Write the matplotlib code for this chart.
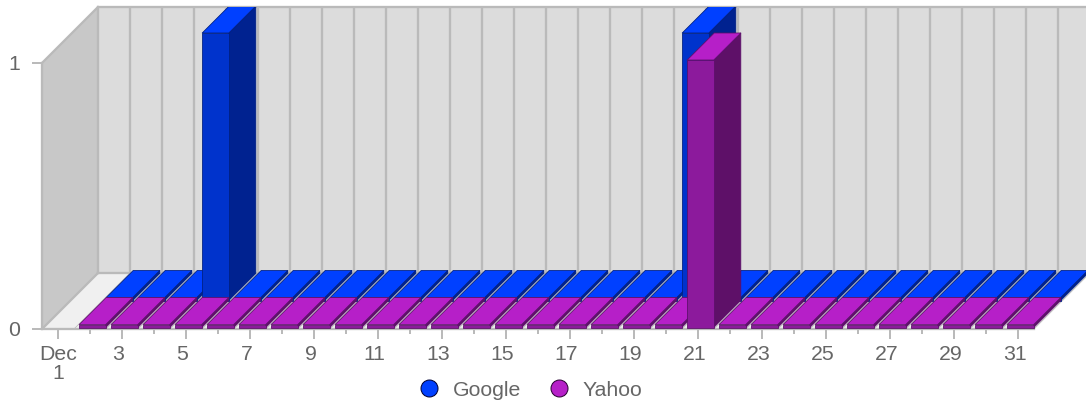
import matplotlib
matplotlib.use("Agg")
import matplotlib.pyplot as plt
from matplotlib.patches import Polygon
from matplotlib.lines import Line2D
from matplotlib.transforms import ScaledTranslation

# ---- data ----
days = list(range(2, 32))
google = [0, 0, 0, 1, 0, 0, 0, 0, 0, 0, 0, 0, 0, 0, 0, 0, 0, 0, 1, 0,
          0, 0, 0, 0, 0, 0, 0, 0, 0, 0]
yahoo = [0, 0, 0, 0, 0, 0, 0, 0, 0, 0, 0, 0, 0, 0, 0, 0, 0, 0, 0, 1,
         0, 0, 0, 0, 0, 0, 0, 0, 0, 0]
major_days = list(range(1, 32, 2))
minor_days = list(range(2, 32, 2))
major_labels = ["Dec\n1"] + [str(d) for d in major_days[1:]]
y_ticks = [0, 1]
series_names = ["Google", "Yahoo"]

# ---- style ----
W, H = 1086, 408
DPI = 100
TXT = "#666666"
GRID = "#bababa"
PX = 0.72  # one pixel in points
FS = 15.3
STYLES = {
    "Google": dict(top="#0040ff", front="#0033cc", side="#002290", edge="#001f80"),
    "Yahoo": dict(top="#b61fc8", front="#8c1a9c", side="#5e1068", edge="#5c0f6a"),
}
plt.rcParams["font.family"] = ["Liberation Sans", "DejaVu Sans"]

fig = plt.figure(figsize=(W / DPI, H / DPI), dpi=DPI)
ax = fig.add_axes([42 / W, (H - 329) / H, (W - 42) / W, (329 - 7) / H])
ax.set_facecolor("none")
ax.set_xlim(0.5, 0.5 + (W - 42) / 32)
ax.set_ylim(0, (329 - 7) / 266)
ux, uy = 1 / 32, 1 / 266  # data units per pixel
DEPTH = 56


def P(x, y, dz=0):
    """Oblique projection: dz pixels of depth go right and up."""
    return (x + dz * ux, y + dz * uy)


x0, x1 = 0.5, 31.5
y1 = 1.0
# walls and floor
ax.add_patch(Polygon([P(x0, 0), P(x0, 0, DEPTH), P(x0, y1, DEPTH), P(x0, y1)],
                     fc="#c8c8c8", ec="none", zorder=1))
ax.add_patch(Polygon([P(x0, 0, DEPTH), P(x1 + 2, 0, DEPTH), P(x1 + 2, y1, DEPTH), P(x0, y1, DEPTH)],
                     fc="#dcdcdc", ec="none", zorder=1))
ax.add_patch(Polygon([P(x0, 0), P(x1, 0), P(x1, 0, DEPTH), P(x0, 0, DEPTH)],
                     fc="#f0f0f0", ec="none", zorder=1))
# grid lines
for k in range(0, 33):
    bx = x0 + k
    ax.plot(*zip(P(bx, 0, DEPTH), P(bx, y1, DEPTH)), color=GRID, lw=2.3 * PX, zorder=1.2)
    if k <= 31:
        ax.plot(*zip(P(bx, 0), P(bx, 0, DEPTH)), color=GRID,
                lw=(2.3 if k == 0 else 0.8) * PX, zorder=1.2)
ax.plot(*zip(P(x0, 0, DEPTH), P(x1 + 2, 0, DEPTH)), color=GRID, lw=2.3 * PX, zorder=1.2)
ax.plot(*zip(P(x0, y1), P(x0, y1, DEPTH)), color=GRID, lw=2.3 * PX, zorder=1.2, clip_on=False)
ax.plot(*zip(P(x0, y1, DEPTH), P(x1 + 2, y1, DEPTH)), color=GRID, lw=2.3 * PX, zorder=1.2, clip_on=False)

# bars
BAR_W = 26.6
BAR_D = 27
BASE = 1.5 * uy
ZERO_TOP = 4.5 * uy
SCALE = 264.5 / 266


def bar(day, value, dz, st):
    xa = day - 10.8 * ux
    xb = xa + BAR_W * ux
    top = ZERO_TOP + value * SCALE
    kw = dict(ec=st["edge"], lw=0.8 * PX, joinstyle="round", zorder=3)
    ax.add_patch(Polygon([P(xb, BASE, dz), P(xb, BASE, dz + BAR_D), P(xb, top, dz + BAR_D), P(xb, top, dz)],
                         fc=st["side"], **kw))
    ax.add_patch(Polygon([P(xa, top, dz), P(xb, top, dz), P(xb, top, dz + BAR_D), P(xa, top, dz + BAR_D)],
                         fc=st["top"], **kw))
    ax.add_patch(Polygon([P(xa, BASE, dz), P(xb, BASE, dz), P(xb, top, dz), P(xa, top, dz)],
                         fc=st["front"], **kw))


for d, v in zip(days, google):
    bar(d, v, BAR_D, STYLES["Google"])
for d, v in zip(days, yahoo):
    bar(d, v, 0, STYLES["Yahoo"])

# axes furniture
for s in ("top", "right"):
    ax.spines[s].set_visible(False)
for s in ("left", "bottom"):
    ax.spines[s].set_color(GRID)
    ax.spines[s].set_linewidth(2.3 * PX)
ax.spines["left"].set_bounds(0, 1)
ax.spines["bottom"].set_bounds(x0, x1)
ax.set_xticks(major_days)
ax.set_xticklabels(major_labels)
ax.set_xticks(minor_days, minor=True)
ax.set_yticks(y_ticks)
ax.tick_params(axis="x", which="major", length=10 * PX, width=2 * PX, color=GRID,
               labelcolor=TXT, labelsize=FS, pad=4, direction="out")
ax.tick_params(axis="x", which="minor", length=5 * PX, width=2 * PX, color=GRID)
ax.tick_params(axis="y", which="major", length=10 * PX, width=2 * PX, color=GRID,
               labelcolor=TXT, labelsize=FS, pad=12 * PX)
shift = ScaledTranslation(-3.5 / DPI, 0, fig.dpi_scale_trans)
for lab in ax.get_xticklabels()[1:]:
    lab.set_transform(lab.get_transform() + shift)
for lab in ax.get_xticklabels()[:1]:
    lab.set_linespacing(1.05)

# legend
handles = [Line2D([], [], ls="none", marker="o", ms=17 * PX, mfc=STYLES[n]["top"],
                  mec="#000033" if n == "Google" else "#2a0033", mew=1 * PX) for n in series_names]
leg = fig.legend(handles, series_names, loc="center",
                 bbox_to_anchor=((416 + 645) / 2 / W, (H - 390) / H),
                 ncol=2, frameon=False, fontsize=FS, labelcolor=TXT,
                 handletextpad=0.62, columnspacing=1.25, handlelength=1.0, borderpad=0)

fig.savefig("out.png", dpi=DPI, facecolor="white")
